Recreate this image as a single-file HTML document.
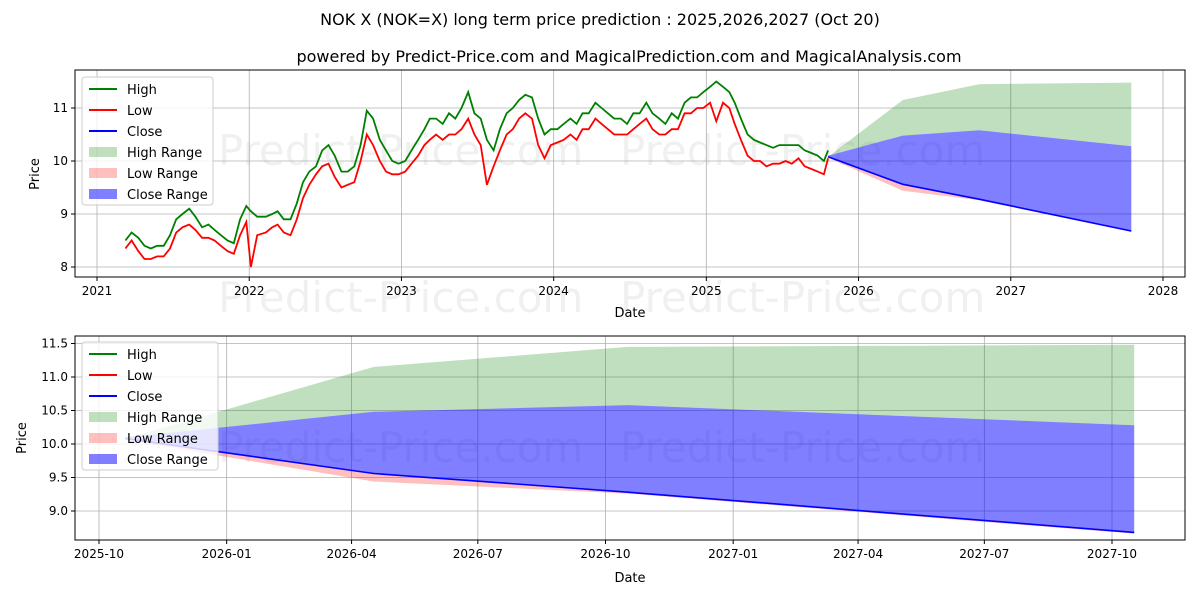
<!DOCTYPE html>
<html><head><meta charset="utf-8">
<style>
body{margin:0;background:#fff;font-family:"Liberation Sans","DejaVu Sans",sans-serif;}
svg text{font-family:"DejaVu Sans","Liberation Sans",sans-serif;}
</style></head>
<body>
<svg id="chart" width="1200" height="600" xmlns="http://www.w3.org/2000/svg">
<rect width="1200" height="600" fill="#fff"/>
<text x="600" y="25" text-anchor="middle" font-size="16">NOK X (NOK=X) long term price prediction : 2025,2026,2027 (Oct 20)</text>
<text x="629" y="62" text-anchor="middle" font-size="16">powered by Predict-Price.com and MagicalPrediction.com and MagicalAnalysis.com</text>
<g id="top"></g>
<g id="bot"></g>
</svg>
<script>
// historical semi-monthly data
const histDates=["2021-03-10","2021-03-25","2021-04-10","2021-04-25","2021-05-10","2021-05-25","2021-06-10","2021-06-25","2021-07-10","2021-07-25","2021-08-10","2021-08-25","2021-09-10","2021-09-25","2021-10-10","2021-10-25","2021-11-10","2021-11-25","2021-12-10","2021-12-25",
"2022-01-05","2022-01-20","2022-02-10","2022-02-25","2022-03-10","2022-03-25","2022-04-10","2022-04-25","2022-05-10","2022-05-25","2022-06-10","2022-06-25","2022-07-10","2022-07-25","2022-08-10","2022-08-25","2022-09-10","2022-09-25","2022-10-10","2022-10-25","2022-11-10","2022-11-25","2022-12-10","2022-12-25",
"2023-01-10","2023-01-25","2023-02-10","2023-02-25","2023-03-10","2023-03-25","2023-04-10","2023-04-25","2023-05-10","2023-05-25","2023-06-10","2023-06-25","2023-07-10","2023-07-25","2023-08-10","2023-08-25","2023-09-10","2023-09-25","2023-10-10","2023-10-25","2023-11-10","2023-11-25","2023-12-10","2023-12-25",
"2024-01-10","2024-01-25","2024-02-10","2024-02-25","2024-03-10","2024-03-25","2024-04-10","2024-04-25","2024-05-10","2024-05-25","2024-06-10","2024-06-25","2024-07-10","2024-07-25","2024-08-10","2024-08-25","2024-09-10","2024-09-25","2024-10-10","2024-10-25","2024-11-10","2024-11-25","2024-12-10","2024-12-25",
"2025-01-10","2025-01-25","2025-02-10","2025-02-25","2025-03-10","2025-03-25","2025-04-10","2025-04-25","2025-05-10","2025-05-25","2025-06-10","2025-06-25","2025-07-10","2025-07-25","2025-08-10","2025-08-25","2025-09-10","2025-09-25","2025-10-10","2025-10-20"];
const histHigh=[8.5,8.65,8.55,8.4,8.35,8.4,8.4,8.6,8.9,9.0,9.1,8.95,8.75,8.8,8.7,8.6,8.5,8.45,8.9,9.15,
9.05,8.95,8.95,9.0,9.05,8.9,8.9,9.2,9.6,9.8,9.9,10.2,10.3,10.1,9.8,9.8,9.9,10.3,10.95,10.8,10.4,10.2,10.0,9.95,
10.0,10.2,10.4,10.6,10.8,10.8,10.7,10.9,10.8,11.0,11.3,10.9,10.8,10.4,10.2,10.6,10.9,11.0,11.15,11.25,11.2,10.8,10.5,10.6,
10.6,10.7,10.8,10.7,10.9,10.9,11.1,11.0,10.9,10.8,10.8,10.7,10.9,10.9,11.1,10.9,10.8,10.7,10.9,10.8,11.1,11.2,11.2,11.3,
11.4,11.5,11.4,11.3,11.1,10.8,10.5,10.4,10.35,10.3,10.25,10.3,10.3,10.3,10.3,10.2,10.15,10.1,10.0,10.2];
const histLow=[8.35,8.5,8.3,8.15,8.15,8.2,8.2,8.35,8.65,8.75,8.8,8.7,8.55,8.55,8.5,8.4,8.3,8.25,8.6,8.85,
8.0,8.6,8.65,8.75,8.8,8.65,8.6,8.9,9.3,9.55,9.75,9.9,9.95,9.7,9.5,9.55,9.6,10.0,10.5,10.3,10.0,9.8,9.75,9.75,
9.8,9.95,10.1,10.3,10.4,10.5,10.4,10.5,10.5,10.6,10.8,10.5,10.3,9.55,9.9,10.2,10.5,10.6,10.8,10.9,10.8,10.3,10.05,10.3,
10.35,10.4,10.5,10.4,10.6,10.6,10.8,10.7,10.6,10.5,10.5,10.5,10.6,10.7,10.8,10.6,10.5,10.5,10.6,10.6,10.9,10.9,11.0,11.0,
11.1,10.75,11.1,11.0,10.7,10.4,10.1,10.0,10.0,9.9,9.95,9.95,10.0,9.95,10.05,9.9,9.85,9.8,9.75,10.05];
// prediction data
const predDates=["2025-10-20","2026-04-17","2026-10-17","2027-10-17"];
const highUpper=[10.08,11.15,11.45,11.48];
const closeUpper=[10.1,10.48,10.58,10.28];
const closeLine=[10.08,9.56,9.28,8.68];
const lowLower=[10.06,9.44,9.26,8.66];
const topYTicks=[8,9,10,11];
const topXTicks=["2021","2022","2023","2024","2025","2026","2027","2028"];
const botYTicks=[9.0,9.5,10.0,10.5,11.0,11.5];
const botXTicks=["2025-10","2026-01","2026-04","2026-07","2026-10","2027-01","2027-04","2027-07","2027-10"];

const NS="http://www.w3.org/2000/svg";
const T=s=>new Date(s.length===4?s+"-01-01":(s.length===7?s+"-01":s)).getTime();
function el(parent,tag,attrs,text){const e=document.createElementNS(NS,tag);for(const k in attrs)e.setAttribute(k,attrs[k]);if(text!==undefined)e.textContent=text;parent.appendChild(e);return e;}

function panel(g,cfg){
  const {L,R,Tp,B,x,y,xt,yt,ytFmt}=cfg;
  xt.forEach(t=>{const px=x(T(t));const l=el(g,'line',{x1:px,x2:px,y1:Tp,y2:B,stroke:'#b0b0b0','stroke-width':0.8});


    el(g,'line',{x1:px,x2:px,y1:B,y2:B+4,stroke:'#000'});
    const tx=el(g,'text',{x:px,y:B+18,'text-anchor':'middle','font-size':12},t);


  });
  yt.forEach(v=>{const py=y(v);const l=el(g,'line',{x1:L,x2:R,y1:py,y2:py,stroke:'#b0b0b0','stroke-width':0.8});


    el(g,'line',{x1:L-4,x2:L,y1:py,y2:py,stroke:'#000'});
    const tx=el(g,'text',{x:L-7,y:py+4,'text-anchor':'end','font-size':12},ytFmt(v));


  });
}
function poly(pts){return pts.map(p=>p[0].toFixed(1)+','+p[1].toFixed(1)).join(' ');}
function bands(g,x,y){
  const xs=predDates.map(d=>x(T(d)));
  const mk=(up,lo,fill,name)=>{const pts=xs.map((px,i)=>[px,y(up[i])]).concat(xs.slice().reverse().map((px,j)=>[px,y(lo[xs.length-1-j])]));
    const p=el(g,'polygon',{points:poly(pts),fill:fill});

};
  mk(highUpper,closeUpper,'rgba(0,128,0,0.25)','high-range-band');
  mk(closeLine,lowLower,'rgba(255,0,0,0.25)','low-range-band');
  mk(closeUpper,closeLine,'rgba(0,0,255,0.5)','close-range-band');
  const l=el(g,'polyline',{points:poly(xs.map((px,i)=>[px,y(closeLine[i])])),fill:'none',stroke:'#0000ff','stroke-width':1.6});


}
function watermark(g,xs,yy,size){xs.forEach(px=>{const t=el(g,'text',{x:px,y:yy,'font-size':size,fill:'#000','fill-opacity':0.06},'Predict-Price.com');

});}
function legend(g,x0,y0,w){
  const b=el(g,'rect',{x:x0,y:y0,width:w,height:128,rx:3,fill:'#fff','fill-opacity':0.8,stroke:'#ccc'});


  const items=[['High','line','#008000'],['Low','line','#ff0000'],['Close','line','#0000ff'],['High Range','box','rgba(0,128,0,0.25)'],['Low Range','box','rgba(255,0,0,0.25)'],['Close Range','box','rgba(0,0,255,0.5)']];
  items.forEach((it,i)=>{const cy=y0+12+i*21;
    if(it[1]==='line')el(g,'line',{x1:x0+7,x2:x0+35,y1:cy,y2:cy,stroke:it[2],'stroke-width':2});
    else el(g,'rect',{x:x0+7,y:cy-5,width:28,height:10,fill:it[2]});
    const t=el(g,'text',{x:x0+45,y:cy+5,'font-size':13},it[0]);


  });
}

(function(){
  const g=document.getElementById('top');
  const L=75,R=1185,Tp=70,B=277;
  const t0=T("2021-01-01"),t1=T("2028-01-01");
  const x=t=>97+(t-t0)/(t1-t0)*(1163-97);
  const y=v=>161-(v-10)*53;
  watermark(g,[218,620],[165],42); watermark(g,[218,620],[312],42);
  panel(g,{L,R,Tp,B,x,y,xt:topXTicks,yt:topYTicks,ytFmt:v=>String(v)});
  bands(g,x,y);
  const hp=el(g,'polyline',{points:poly(histDates.map((d,i)=>[x(T(d)),y(histHigh[i])])),fill:'none',stroke:'#008000','stroke-width':1.8});


  const lp=el(g,'polyline',{points:poly(histDates.map((d,i)=>[x(T(d)),y(histLow[i])])),fill:'none',stroke:'#ff0000','stroke-width':1.8});


  el(g,'rect',{x:L,y:Tp,width:R-L,height:B-Tp,fill:'none',stroke:'#000'});
  const xl=el(g,'text',{x:630,y:317,'text-anchor':'middle','font-size':13},'Date');


  const yl=el(g,'text',{x:39,y:174,'text-anchor':'middle','font-size':13,transform:'rotate(-90 39 174)'},'Price');


  legend(g,82,77,131);
})();
(function(){
  const g=document.getElementById('bot');
  const L=75,R=1185,Tp=336,B=540;
  const t0=T("2025-10-01"),t1=T("2027-10-01");
  const x=t=>99+(t-t0)/(t1-t0)*(1112-99);
  const y=v=>444-(v-10)*67;
  watermark(g,[218,620],[462],42);
  panel(g,{L,R,Tp,B,x,y,xt:botXTicks,yt:botYTicks,ytFmt:v=>v.toFixed(1)});
  bands(g,x,y);
  el(g,'rect',{x:L,y:Tp,width:R-L,height:B-Tp,fill:'none',stroke:'#000'});
  const xl=el(g,'text',{x:630,y:582,'text-anchor':'middle','font-size':13},'Date');


  const yl=el(g,'text',{x:26,y:438,'text-anchor':'middle','font-size':13,transform:'rotate(-90 26 438)'},'Price');


  legend(g,82,342,136);
})();
</script>
</body></html>
